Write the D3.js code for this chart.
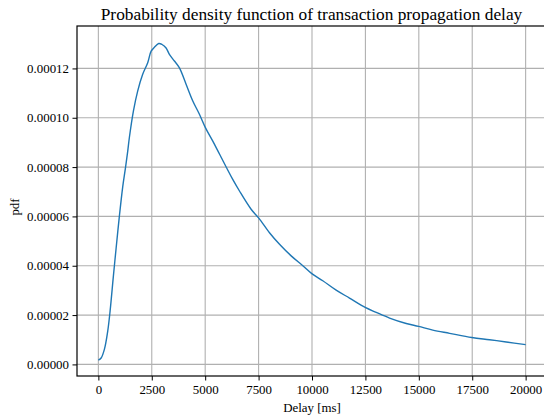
<!DOCTYPE html>
<html><head><meta charset="utf-8">
<script src="https://cdn.jsdelivr.net/npm/d3@7"></script>
<style>body{margin:0;background:#fff}svg{display:block}text{font-family:"Liberation Serif","DejaVu Serif",serif;fill:#000}</style>
</head><body>
<script>
// Delay [ms]
const delays = [0,130,285,440,550,705,830,985,1140,1265,1375,1450,1640,1840,2075,2310,2470,2625,2825,2980,3170,3325,3560,3795,4110,4420,4730,5010,5350,5675,6290,6605,7150,7510,8010,8480,9025,9570,9990,10505,11130,11755,12490,13005,13630,14410,14990,15655,16440,17480,18310,19090,20000];
// pdf values (x 1e-5)
const pdfE5 = [0.17,0.26,0.62,1.36,2.17,3.6,4.7,6.02,7.2,7.95,8.65,9.19,10.27,11.08,11.76,12.23,12.7,12.86,13.01,12.97,12.83,12.57,12.3,12.02,11.35,10.68,10.14,9.6,9.06,8.52,7.5,7.03,6.29,5.93,5.34,4.87,4.4,4.0,3.68,3.39,3.01,2.69,2.31,2.11,1.88,1.66,1.54,1.39,1.26,1.09,1.0,0.91,0.8];
const xTicks = [0,2500,5000,7500,10000,12500,15000,17500,20000];
const yTicks = [0,0.00002,0.00004,0.00006,0.00008,0.00010,0.00012];
const titleText = "Probability density function of transaction propagation delay";
const xLabel = "Delay [ms]";
const yLabel = "pdf";

const W = 544, H = 416;
const L = 77, R = 547, T = 26, B = 376;
const svg = d3.select("body").append("svg").attr("width", W).attr("height", H);

const x = d3.scaleLinear().domain([-1000, 21000]).range([L, R]);
const y = d3.scaleLinear().domain([-0.0000047, 0.0001372]).range([B, T]);

const data = delays.map((d, i) => [d, pdfE5[i] * 1e-5]);

const fs = 12.9;
// grid
svg.append("g").selectAll("line").data(xTicks).join("line")
  .attr("x1", d => x(d)).attr("x2", d => x(d)).attr("y1", T).attr("y2", B)
  .attr("stroke", "#b0b0b0").attr("stroke-width", 1.1);
svg.append("g").selectAll("line").data(yTicks).join("line")
  .attr("x1", L).attr("x2", R).attr("y1", d => y(d)).attr("y2", d => y(d))
  .attr("stroke", "#b0b0b0").attr("stroke-width", 1.1);

// line
svg.append("path").datum(data)
  .attr("d", d3.line().x(d => x(d[0])).y(d => y(d[1])).curve(d3.curveCatmullRom.alpha(0.5)))
  .attr("fill", "none").attr("stroke", "#1f77b4").attr("stroke-width", 1.4);

// axes
const xAxis = d3.axisBottom(x).tickValues(xTicks).tickFormat(d3.format("d")).tickSize(4.5).tickPadding(4);
const yAxis = d3.axisLeft(y).tickValues(yTicks).tickFormat(d3.format(".5f")).tickSize(4.5).tickPadding(3.5);
const gx = svg.append("g").attr("transform", `translate(0,${B})`).call(xAxis);
const gy = svg.append("g").attr("transform", `translate(${L},0)`).call(yAxis);
[gx, gy].forEach(g => {
  g.select(".domain").remove();
  g.selectAll(".tick line").attr("stroke", "#000").attr("stroke-width", 1);
  g.selectAll(".tick text").attr("font-family", '"Liberation Serif", serif').attr("font-size", fs).attr("fill", "#000");
});
// spines
svg.append("rect").attr("x", L).attr("y", T).attr("width", R - L).attr("height", B - T)
  .attr("fill", "none").attr("stroke", "#000").attr("stroke-width", 1.2);

// labels
svg.append("text").attr("x", 312).attr("y", 411.5).attr("text-anchor", "middle").attr("font-size", fs).text(xLabel);
svg.append("text").attr("transform", "translate(19,207) rotate(-90)").attr("text-anchor", "middle").attr("font-size", fs).text(yLabel);
const title = svg.append("text").attr("x", 311.5).attr("y", 19.5).attr("text-anchor", "middle").attr("font-size", 15.5).text(titleText);
const tw = title.node().getComputedTextLength();
if (tw > 0) title.attr("font-size", 15.5 * 422 / tw);
</script>
</body></html>
